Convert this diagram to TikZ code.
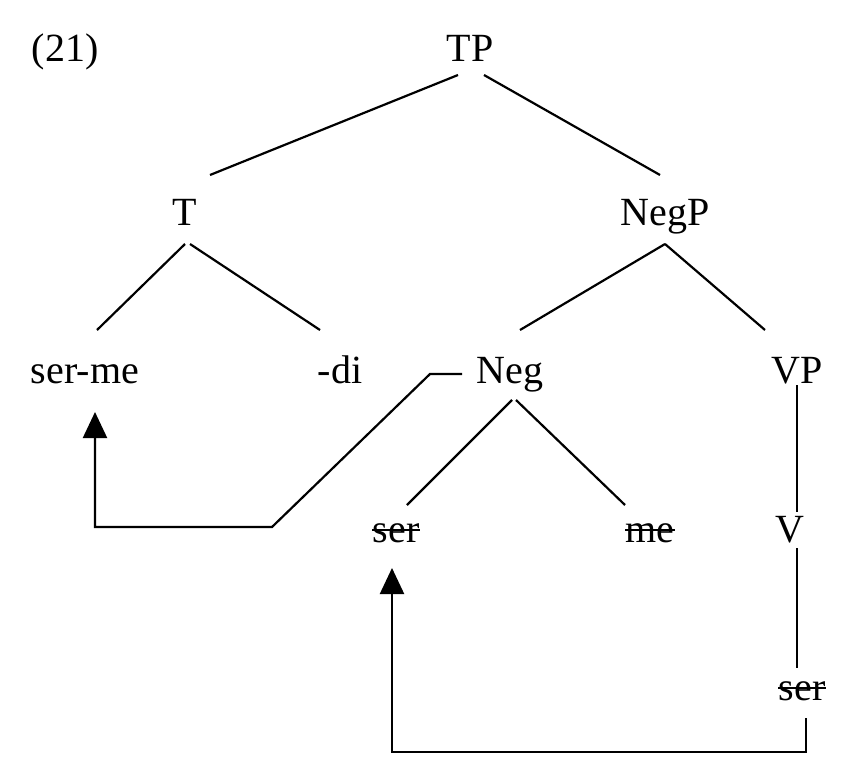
\documentclass[tikz,border=0pt]{standalone}
\usepackage{fontspec}
\setmainfont{Liberation Serif}
\usetikzlibrary{arrows.meta}
\begin{document}
\begin{tikzpicture}[x=1pt,y=-1pt,
  lab/.style={font=\fontsize{40}{40}\selectfont,inner sep=0pt,anchor=base},
  br/.style={line width=2.2pt},
  mv/.style={line width=2.2pt,-{Triangle[length=26pt,width=24pt]}},
  strk/.style={line width=2pt}]
\useasboundingbox (0,0) rectangle (856,760);
\node[lab] (ex) at (65,62) {(21)};
\node[lab] (TP) at (470,62) {TP};
\node[lab] (T) at (185,225) {T};
\node[lab] (NegP) at (665,225) {NegP};
\node[lab] (serme) at (85,383) {ser-me};
\node[lab] (di) at (340,383) {-di};
\node[lab] (Neg) at (510,383) {Neg};
\node[lab] (VP) at (797,383) {VP};
\node[lab] (ser1) at (396,542) {ser};
\node[lab] (me) at (650,542) {me};
\node[lab] (V) at (790,542) {V};
\node[lab] (ser2) at (802,700) {ser};
\draw[strk] (ser1.west|-0,530) -- (ser1.east|-0,530);
\draw[strk] (me.west|-0,530) -- (me.east|-0,530);
\draw[strk] (ser2.west|-0,688) -- (ser2.east|-0,688);
\draw[br] (458,75) -- (210,175);
\draw[br] (484,75) -- (660,175);
\draw[br] (185,244) -- (97,330);
\draw[br] (190,244) -- (320,330);
\draw[br] (665,244) -- (520,330);
\draw[br] (665,244) -- (765,330);
\draw[br] (797,385) -- (797,512);
\draw[br] (512,400) -- (407,505);
\draw[br] (516,400) -- (625,505);
\draw[br] (797,548) -- (797,668);
\coordinate (a1) at (462,374);
\draw[mv] (a1) -- (430,374) -- (272,527) -- (95,527) -- (95,412);
\coordinate (a2) at (806,718);
\draw[mv] (a2) -- (806,752) -- (392,752) -- (392,568);
\end{tikzpicture}
\end{document}
